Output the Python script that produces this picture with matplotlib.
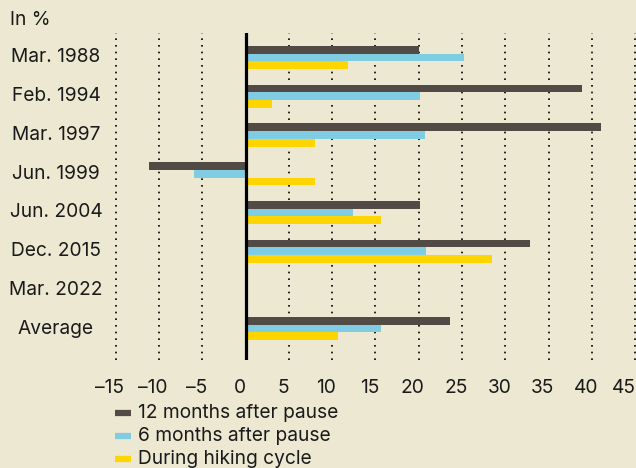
import matplotlib
matplotlib.use("Agg")
import matplotlib.pyplot as plt
import matplotlib.transforms as mtrans
from matplotlib.lines import Line2D
import numpy as np

plt.rcParams['font.family'] = ['Inter', 'DejaVu Sans']

# data (in %)
categories = ["Mar. 1988", "Feb. 1994", "Mar. 1997", "Jun. 1999",
              "Jun. 2004", "Dec. 2015", "Mar. 2022", "Average"]
series = ["12 months after pause", "6 months after pause", "During hiking cycle"]
months12 = [20.0, 38.8, 41.0, -11.2, 20.1, 32.9, np.nan, 23.6]
months6 = [25.2, 20.1, 20.7, -5.9, 12.4, 20.8, np.nan, 15.6]
hiking = [11.8, 3.0, 8.0, 8.0, 15.6, 28.4, np.nan, 10.7]
xticks = [-15, -10, -5, 0, 5, 10, 15, 20, 25, 30, 35, 40, 45]

bg = "#ece8d2"
colors = ["#524a44", "#7fcce3", "#ffd500"]
txt = "#1a1a1a"
fs = 13.8

fig = plt.figure(figsize=(6.36, 4.68), dpi=100, facecolor=bg)
ax = fig.add_axes([115.6 / 636, 1 - 360 / 468, 519.7 / 636, 327 / 468])
ax.set_facecolor(bg)

y = np.arange(len(categories))
h = 0.2
for i, (vals, c) in enumerate(zip([months12, months6, hiking], colors)):
    ax.barh(y + (i - 1) * h, vals, height=h, color=c, zorder=3)

ax.set_xlim(-15, 45)
ax.set_ylim(7.81, -0.632)

# dotted vertical grid, solid zero line
for t in xticks:
    if t == 0:
        ax.axvline(0, color="black", lw=2.3, zorder=4)
    else:
        ax.axvline(t, color="black", lw=1.2, ls=(0, (1, 3)), zorder=1,
                   clip_on=False)

for s in ax.spines.values():
    s.set_visible(False)
ax.set_yticks([])
ax.set_xticks(xticks)
ax.set_xticklabels([str(t).replace("-", "\u2013") for t in xticks])
ax.tick_params(axis="x", length=0, pad=14, labelsize=fs, colors=txt)
labels = ax.get_xticklabels()
for k, lab in enumerate(labels):
    dx = -6 if k < len(labels) - 1 else -11  # keep "45" inside the figure
    off = mtrans.ScaledTranslation(dx / 100, 0, fig.dpi_scale_trans)
    lab.set_transform(lab.get_transform() + off)

# category labels, centred in the left margin
trans = mtrans.blended_transform_factory(fig.transFigure, ax.transData)
for yi, cat in zip(y, categories):
    ax.text(56 / 636, yi, cat, transform=trans, ha="center", va="center",
            fontsize=fs, color=txt)

fig.text(10 / 636, 1 - 20 / 468, "In %", ha="left", va="center",
         fontsize=fs, color=txt)

# legend drawn by hand
for i, (name, c) in enumerate(zip(series, colors)):
    yy = 1 - (413 + i * 23) / 468
    fig.add_artist(Line2D([115 / 636, 131 / 636], [yy, yy], color=c, lw=4.5,
                          transform=fig.transFigure, solid_capstyle="butt"))
    fig.text(138 / 636, yy, name, ha="left", va="center", fontsize=fs,
             color=txt)

fig.savefig("out.png", dpi=100, facecolor=bg)
